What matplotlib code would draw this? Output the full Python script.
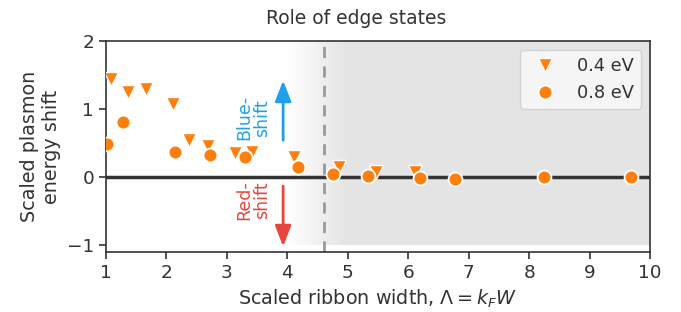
import numpy as np
import matplotlib
matplotlib.use("Agg")
import matplotlib.pyplot as plt
from matplotlib.colors import LinearSegmentedColormap

# ── データ ──
lam_04 = [1.09, 1.37, 1.66, 2.10, 2.38, 2.68, 3.14, 3.41, 4.11, 4.86, 5.47, 6.12]
shift_04 = [1.44, 1.25, 1.30, 1.08, 0.54, 0.46, 0.36, 0.37, 0.29, 0.15, 0.08, 0.07]

lam_08 = [1.01, 1.28, 2.14, 2.72, 3.30, 4.17, 4.76, 5.34, 6.20, 6.78, 8.24, 9.69]
shift_08 = [0.49, 0.81, 0.37, 0.32, 0.30, 0.15, 0.05, 0.02, -0.02, -0.03, 0.0, 0.0]

labels = ["0.4 eV", "0.8 eV"]
edge_x = 4.6

plt.rcParams["font.family"] = ["DejaVu Sans"]
plt.rcParams["font.size"] = 14
plt.rcParams["text.color"] = "#333333"
plt.rcParams["axes.labelcolor"] = "#333333"
plt.rcParams["xtick.color"] = "#333333"
plt.rcParams["ytick.color"] = "#333333"

fig = plt.figure(figsize=(6.81, 3.12), dpi=100)
ax = fig.add_axes([0.1557, 0.1923, 0.7988, 0.6763])

orange = "#ff7f0e"
blue = "#1ea0ea"
red = "#e8453c"
grey = "#e4e4e4"

# 灰色の背景（グラデーション + 塗り）
cmap = LinearSegmentedColormap.from_list("g", ["white", grey])
grad = np.linspace(0, 1, 200).reshape(1, -1)
ax.imshow(grad, cmap=cmap, extent=[4.0, 5.0, -1.0, 2.0], aspect="auto", zorder=0)
ax.fill_between([5.0, 10.0], -1.0, 2.0, color=grey, lw=0, zorder=0)

ax.axvline(edge_x, color="#999999", lw=2, ls=(0, (4, 3)), zorder=1)
ax.axhline(0, color="#333333", lw=2.5, zorder=2)

ax.plot(lam_04, shift_04, "v", color=orange, ms=10, mec="white", mew=1,
        ls="none", label=labels[0], zorder=3)
ax.plot(lam_08, shift_08, "o", color=orange, ms=10, mec="white", mew=1.3,
        ls="none", label=labels[1], zorder=4)

# 矢印と注釈
ax.annotate("", xy=(3.93, 1.46), xytext=(3.93, 0.5),
            arrowprops=dict(arrowstyle="-|>,head_width=0.35,head_length=0.9",
                            color=blue, lw=2), zorder=5)
ax.annotate("", xy=(3.93, -1.06), xytext=(3.93, -0.09),
            arrowprops=dict(arrowstyle="-|>,head_width=0.35,head_length=0.9",
                            color=red, lw=2), zorder=5)
ax.text(3.44, 0.87, "Blue-\nshift", color=blue, rotation=90,
        ha="center", va="center", fontsize=12.5, linespacing=1.0)
ax.text(3.44, -0.34, "Red-\nshift", color=red, rotation=90,
        ha="center", va="center", fontsize=12.5, linespacing=1.0)

ax.set_xlim(1, 10)
ax.set_ylim(-1.1, 2.0)
ax.set_xticks(range(1, 11))
ax.set_yticks([-1, 0, 1, 2])
ax.set_xlabel(r"Scaled ribbon width, $\Lambda = k_F W$", fontsize=13.8)
ax.set_ylabel("Scaled plasmon\nenergy shift", fontsize=13.8)
ax.set_title("Role of edge states", fontsize=13.5, pad=12, x=0.46)

for s in ax.spines.values():
    s.set_color("#333333")
    s.set_linewidth(1.2)
ax.tick_params(direction="out", length=5, width=1.2, labelsize=13.3)

leg = ax.legend(loc="upper right", frameon=True, fontsize=12.8)
leg.get_frame().set_edgecolor("#cccccc")
leg.get_frame().set_facecolor("#fafafa")

fig.savefig("out.png", dpi=100)
